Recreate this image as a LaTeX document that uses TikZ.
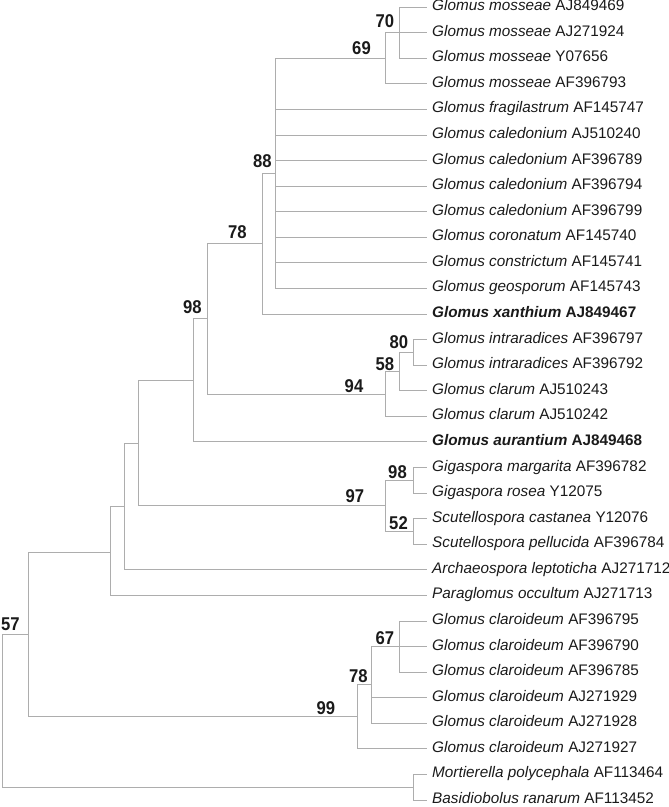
\documentclass[tikz,border=0pt]{standalone}
\usepackage{fontspec}
\setmainfont{Liberation Sans}
\newfontfamily\bootfont[FakeStretch=0.9]{Liberation Sans}
\usepackage{xcolor}
\usepackage{tikz}

\definecolor{branch}{HTML}{ADADAD}
\definecolor{ink}{HTML}{1A1A1A}

\begin{document}
\begin{tikzpicture}[x=1pt,y=-1pt]

        \tikzstyle{taxon}=[anchor=west,inner xsep=5pt,inner ysep=0pt,text height=0.716em,text depth=0pt,text=ink,font=\fontsize{15.3}{18}\selectfont]
        \tikzstyle{boot}=[inner sep=0pt,text=ink,font=\bootfont\bfseries\fontsize{18.5}{20}\selectfont]
        \tikzstyle{edge}=[draw=branch,line width=0.8pt]

        \useasboundingbox (0,0) rectangle (669,807);

        %% Taxa
        \node[taxon] (l1) at (427,7.4) {\textit{Glomus mosseae} AJ849469};
        \node[taxon] (l2) at (427,32.58) {\textit{Glomus mosseae} AJ271924};
        \node[taxon] (l3) at (427,58.16) {\textit{Glomus mosseae} Y07656};
        \node[taxon] (l4) at (427,83.74) {\textit{Glomus mosseae} AF396793};
        \node[taxon] (l5) at (427,109.32) {\textit{Glomus fragilastrum} AF145747};
        \node[taxon] (l6) at (427,134.9) {\textit{Glomus caledonium} AJ510240};
        \node[taxon] (l7) at (427,160.48) {\textit{Glomus caledonium} AF396789};
        \node[taxon] (l8) at (427,186.06) {\textit{Glomus caledonium} AF396794};
        \node[taxon] (l9) at (427,211.64) {\textit{Glomus caledonium} AF396799};
        \node[taxon] (l10) at (427,237.22) {\textit{Glomus coronatum} AF145740};
        \node[taxon] (l11) at (427,262.8) {\textit{Glomus constrictum} AF145741};
        \node[taxon] (l12) at (427,288.38) {\textit{Glomus geosporum} AF145743};
        \node[taxon] (l13) at (427,313.96) {\textbf{\textit{Glomus xanthium} AJ849467}};
        \node[taxon] (l14) at (427,339.54) {\textit{Glomus intraradices} AF396797};
        \node[taxon] (l15) at (427,365.12) {\textit{Glomus intraradices} AF396792};
        \node[taxon] (l16) at (427,390.7) {\textit{Glomus clarum} AJ510243};
        \node[taxon] (l17) at (427,416.28) {\textit{Glomus clarum} AJ510242};
        \node[taxon] (l18) at (427,441.86) {\textbf{\textit{Glomus aurantium} AJ849468}};
        \node[taxon] (l19) at (427,467.44) {\textit{Gigaspora margarita} AF396782};
        \node[taxon] (l20) at (427,493.02) {\textit{Gigaspora rosea} Y12075};
        \node[taxon] (l21) at (427,518.6) {\textit{Scutellospora castanea} Y12076};
        \node[taxon] (l22) at (427,544.18) {\textit{Scutellospora pellucida} AF396784};
        \node[taxon] (l23) at (427,569.76) {\textit{Archaeospora leptoticha} AJ271712};
        \node[taxon] (l24) at (427,595.34) {\textit{Paraglomus occultum} AJ271713};
        \node[taxon] (l25) at (427,620.92) {\textit{Glomus claroideum} AF396795};
        \node[taxon] (l26) at (427,646.5) {\textit{Glomus claroideum} AF396790};
        \node[taxon] (l27) at (427,672.08) {\textit{Glomus claroideum} AF396785};
        \node[taxon] (l28) at (427,697.66) {\textit{Glomus claroideum} AJ271929};
        \node[taxon] (l29) at (427,723.24) {\textit{Glomus claroideum} AJ271928};
        \node[taxon] (l30) at (427,748.82) {\textit{Glomus claroideum} AJ271927};
        \node[taxon] (l31) at (427,774.4) {\textit{Mortierella polycephala} AF113464};
        \node[taxon] (l32) at (427,799.98) {\textit{Basidiobolus ranarum} AF113452};

        %% Internal nodes
        \coordinate (n70) at (399,32.58);
        \coordinate (n69) at (385,58.16);
        \coordinate (n88) at (275,173.27);
        \coordinate (n78a) at (262,243.6);
        \coordinate (n80) at (413,352.33);
        \coordinate (n58) at (399,371.5);
        \coordinate (n94) at (385,393.9);
        \coordinate (n98a) at (207,318.75);
        \coordinate (nglom) at (193,380.3);
        \coordinate (n98b) at (413,480.23);
        \coordinate (n52) at (413,531.39);
        \coordinate (n97) at (385,505.81);
        \coordinate (ngig) at (138,443.06);
        \coordinate (narch) at (124,506.41);
        \coordinate (npara) at (110,552);
        \coordinate (n67) at (399,646.5);
        \coordinate (n78b) at (371,684.87);
        \coordinate (n99) at (357,716.85);
        \coordinate (n57) at (28,634.5);
        \coordinate (nout) at (413,787.19);
        \coordinate (nroot) at (2,710.8);

        %% Branches
        \draw[edge] (n70) |- (l1.west) (n70) |- (l2.west) (n70) |- (l3.west);
        \draw[edge] (n69) |- (n70) (n69) |- (l4.west);
        \draw[edge] (n88) |- (n69);
        \draw[edge] (n88) |- (l5.west) (n88) |- (l6.west) (n88) |- (l7.west) (n88) |- (l8.west);
        \draw[edge] (n88) |- (l9.west) (n88) |- (l10.west) (n88) |- (l11.west) (n88) |- (l12.west);
        \draw[edge] (n78a) |- (n88) (n78a) |- (l13.west);
        \draw[edge] (n80) |- (l14.west) (n80) |- (l15.west);
        \draw[edge] (n58) |- (n80) (n58) |- (l16.west);
        \draw[edge] (n94) |- (n58) (n94) |- (l17.west);
        \draw[edge] (n98a) |- (n78a) (n98a) |- (n94);
        \draw[edge] (nglom) |- (n98a) (nglom) |- (l18.west);
        \draw[edge] (n98b) |- (l19.west) (n98b) |- (l20.west);
        \draw[edge] (n52) |- (l21.west) (n52) |- (l22.west);
        \draw[edge] (n97) |- (n98b) (n97) |- (n52);
        \draw[edge] (ngig) |- (nglom) (ngig) |- (n97);
        \draw[edge] (narch) |- (ngig) (narch) |- (l23.west);
        \draw[edge] (npara) |- (narch) (npara) |- (l24.west);
        \draw[edge] (n67) |- (l25.west) (n67) |- (l26.west) (n67) |- (l27.west);
        \draw[edge] (n78b) |- (n67) (n78b) |- (l28.west) (n78b) |- (l29.west);
        \draw[edge] (n99) |- (n78b) (n99) |- (l30.west);
        \draw[edge] (n57) |- (npara) (n57) |- (n99);
        \draw[edge] (nout) |- (l31.west) (nout) |- (l32.west);
        \draw[edge] (nroot) |- (n57) (nroot) |- (nout);

        %% Bootstrap values
        \node[boot] (b70) at (385,21.5) {70};
        \node[boot] (b69) at (361.5,48) {69};
        \node[boot] (b88) at (262.5,161.5) {88};
        \node[boot] (b78a) at (237.5,232) {78};
        \node[boot] (b98a) at (192.5,307.5) {98};
        \node[boot] (b80) at (399,342.5) {80};
        \node[boot] (b58) at (385,364) {58};
        \node[boot] (b94) at (354,386) {94};
        \node[boot] (b98b) at (397.5,472) {98};
        \node[boot] (b97) at (355,496.5) {97};
        \node[boot] (b52) at (398.5,523) {52};
        \node[boot] (b57) at (10.5,624.5) {57};
        \node[boot] (b67) at (385,638) {67};
        \node[boot] (b78b) at (358.5,676.5) {78};
        \node[boot] (b99) at (326,708) {99};

    \end{tikzpicture}
\end{document}
